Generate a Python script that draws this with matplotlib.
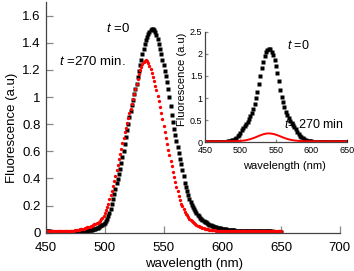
import numpy as np
import matplotlib
matplotlib.use("Agg")
import matplotlib.pyplot as plt

plt.rcParams['font.family'] = ['Liberation Sans', 'DejaVu Sans']
plt.rcParams['mathtext.fontset'] = 'custom'
plt.rcParams['mathtext.rm'] = 'Liberation Sans'
plt.rcParams['mathtext.it'] = 'Liberation Sans:italic'

##### data #####
# main plot, 1 nm steps 450..650
wl_main = np.arange(450, 651, 1)
t0_main = [
    0.012, 0.011, 0.010, 0.009, 0.008, 0.007, 0.006, 0.006, 0.005, 0.005,
    0.004, 0.004, 0.004, 0.003, 0.003, 0.003, 0.003, 0.003, 0.003, 0.003,
    0.004, 0.004, 0.004, 0.005, 0.005, 0.006, 0.006, 0.007, 0.008, 0.009,
    0.010, 0.011, 0.012, 0.013, 0.014, 0.015, 0.016, 0.018, 0.020, 0.022,
    0.024, 0.027, 0.030, 0.034, 0.038, 0.043, 0.048, 0.054, 0.060, 0.066,
    0.073, 0.085, 0.100, 0.120, 0.145, 0.175, 0.210, 0.245, 0.285, 0.325,
    0.365, 0.395, 0.430, 0.470, 0.515, 0.560, 0.605, 0.655, 0.705, 0.755,
    0.805, 0.850, 0.895, 0.940, 0.980, 1.020, 1.060, 1.100, 1.145, 1.190,
    1.235, 1.275, 1.315, 1.355, 1.390, 1.420, 1.445, 1.465, 1.480, 1.492,
    1.500, 1.502, 1.495, 1.480, 1.455, 1.425, 1.390, 1.355, 1.315, 1.275,
    1.235, 1.195, 1.155, 1.110, 1.060, 1.000, 0.935, 0.870, 0.815, 0.765,
    0.720, 0.675, 0.630, 0.585, 0.545, 0.505, 0.460, 0.415, 0.370, 0.335,
    0.305, 0.275, 0.250, 0.225, 0.205, 0.190, 0.175, 0.160, 0.145, 0.133,
    0.122, 0.112, 0.103, 0.095, 0.088, 0.082, 0.076, 0.070, 0.065, 0.060,
    0.056, 0.052, 0.048, 0.045, 0.042, 0.040, 0.037, 0.035, 0.033, 0.031,
    0.029, 0.027, 0.026, 0.024, 0.023, 0.022, 0.021, 0.020, 0.019, 0.018,
    0.017, 0.016, 0.016, 0.015, 0.015, 0.014, 0.014, 0.013, 0.013, 0.013,
    0.012, 0.012, 0.012, 0.012, 0.011, 0.011, 0.011, 0.011, 0.011, 0.010,
    0.010, 0.010, 0.010, 0.010, 0.010, 0.009, 0.009, 0.009, 0.009, 0.009,
    0.009, 0.009, 0.009, 0.008, 0.008, 0.008, 0.008, 0.008, 0.008, 0.008,
    0.008]
t270_main = [
    0.015, 0.014, 0.013, 0.012, 0.011, 0.010, 0.010, 0.009, 0.009, 0.009,
    0.009, 0.009, 0.009, 0.009, 0.010, 0.010, 0.010, 0.011, 0.011, 0.012,
    0.012, 0.013, 0.014, 0.015, 0.016, 0.017, 0.018, 0.020, 0.022, 0.024,
    0.026, 0.028, 0.030, 0.033, 0.036, 0.039, 0.042, 0.045, 0.049, 0.053,
    0.057, 0.061, 0.065, 0.070, 0.075, 0.082, 0.090, 0.100, 0.112, 0.126,
    0.143, 0.165, 0.190, 0.215, 0.245, 0.275, 0.310, 0.345, 0.380, 0.420,
    0.460, 0.500, 0.540, 0.580, 0.620, 0.660, 0.700, 0.740, 0.775, 0.810,
    0.845, 0.880, 0.915, 0.950, 0.985, 1.020, 1.060, 1.100, 1.135, 1.170,
    1.200, 1.225, 1.245, 1.260, 1.270, 1.272, 1.265, 1.250, 1.230, 1.205,
    1.180, 1.150, 1.120, 1.085, 1.050, 1.010, 0.970, 0.925, 0.880, 0.840,
    0.790, 0.745, 0.700, 0.655, 0.610, 0.570, 0.530, 0.490, 0.450, 0.410,
    0.375, 0.340, 0.305, 0.270, 0.240, 0.215, 0.195, 0.175, 0.155, 0.140,
    0.127, 0.115, 0.104, 0.094, 0.085, 0.077, 0.070, 0.064, 0.058, 0.053,
    0.048, 0.044, 0.040, 0.037, 0.034, 0.031, 0.029, 0.027, 0.025, 0.023,
    0.021, 0.020, 0.019, 0.018, 0.017, 0.016, 0.016, 0.015, 0.015, 0.014,
    0.014, 0.014, 0.013, 0.013, 0.013, 0.013, 0.012, 0.012, 0.012, 0.012,
    0.012, 0.012, 0.012, 0.012, 0.012, 0.011, 0.011, 0.011, 0.011, 0.011,
    0.011, 0.011, 0.011, 0.011, 0.011, 0.011, 0.011, 0.011, 0.011, 0.011,
    0.011, 0.011, 0.011, 0.011, 0.011, 0.010, 0.010, 0.010, 0.010, 0.010,
    0.010, 0.010, 0.010, 0.010, 0.010, 0.010, 0.010, 0.010, 0.010, 0.010,
    0.010]

# inset, 2 nm steps 450..650
wl_inset = np.arange(450, 651, 2)
t0_inset = [
    0.004, 0.004, 0.004, 0.004, 0.004, 0.005, 0.005, 0.005, 0.006, 0.006,
    0.007, 0.008, 0.009, 0.011, 0.013, 0.016, 0.020, 0.025, 0.032, 0.042,
    0.055, 0.075, 0.100, 0.135, 0.175, 0.220, 0.270, 0.320, 0.370, 0.415,
    0.460, 0.520, 0.590, 0.670, 0.760, 0.870, 0.990, 1.130, 1.320, 1.500,
    1.670, 1.820, 1.940, 2.030, 2.090, 2.110, 2.100, 2.050, 1.970, 1.860,
    1.720, 1.560, 1.380, 1.190, 1.030, 0.900, 0.790, 0.690, 0.610, 0.540,
    0.480, 0.430, 0.385, 0.340, 0.290, 0.240, 0.190, 0.150, 0.115, 0.088,
    0.068, 0.052, 0.040, 0.031, 0.025, 0.020, 0.017, 0.014, 0.012, 0.011,
    0.010, 0.009, 0.009, 0.008, 0.008, 0.007, 0.007, 0.006, 0.006, 0.006,
    0.005, 0.005, 0.005, 0.005, 0.005, 0.005, 0.005, 0.005, 0.005, 0.005,
    0.005]
t270_inset = [
    0.022, 0.022, 0.022, 0.022, 0.022, 0.022, 0.022, 0.022, 0.022, 0.022,
    0.022, 0.022, 0.022, 0.022, 0.022, 0.023, 0.023, 0.024, 0.024, 0.025,
    0.025, 0.026, 0.027, 0.028, 0.030, 0.032, 0.035, 0.038, 0.042, 0.047,
    0.055, 0.063, 0.072, 0.082, 0.093, 0.105, 0.118, 0.131, 0.145, 0.158,
    0.170, 0.180, 0.188, 0.195, 0.199, 0.200, 0.199, 0.195, 0.189, 0.181,
    0.171, 0.160, 0.148, 0.135, 0.122, 0.109, 0.097, 0.086, 0.076, 0.067,
    0.059, 0.052, 0.046, 0.041, 0.037, 0.034, 0.031, 0.029, 0.027, 0.026,
    0.025, 0.024, 0.024, 0.023, 0.023, 0.023, 0.022, 0.022, 0.022, 0.022,
    0.022, 0.022, 0.022, 0.022, 0.022, 0.022, 0.022, 0.022, 0.022, 0.022,
    0.022, 0.022, 0.022, 0.022, 0.022, 0.022, 0.022, 0.022, 0.022, 0.022,
    0.022]

main_xticks = [450, 500, 550, 600, 650, 700]
main_yticks = [0, 0.2, 0.4, 0.6, 0.8, 1, 1.2, 1.4, 1.6]
main_ylabels = ["0", "0.2", "0.4", "0.6", "0.8", "1", "1.2", "1.4", "1.6"]
inset_xticks = [450, 500, 550, 600, 650]
inset_yticks = [0, 0.5, 1, 1.5, 2, 2.5]
inset_ylabels = ["0", "0.5", "1", "1.5", "2", "2.5"]

spine_col = "#444444"
tick_col = "#888888"


def style_axes(ax, size, length, xpad, ypad):
    for s in ["top", "right"]:
        ax.spines[s].set_visible(False)
    for s in ["left", "bottom"]:
        ax.spines[s].set_color(spine_col)
        ax.spines[s].set_linewidth(0.9)
    ax.tick_params(direction="in", length=length, width=0.9, color=tick_col,
                   labelsize=size, labelcolor="black")
    ax.tick_params(axis="x", pad=xpad)
    ax.tick_params(axis="y", pad=ypad)


fig = plt.figure(figsize=(3.54, 2.71), dpi=100)

# main axes
ax = fig.add_axes([0.130, 0.1413, 0.830, 0.8506])
ax.plot(wl_main, t0_main, ls="none", marker="s", ms=2.6, mec="none",
        color="black")
ax.plot(wl_main, t270_main, ls="none", marker="o", ms=2.4, mec="none",
        color="red")
ax.set_xlim(450, 700)
ax.set_ylim(0, 1.7)
ax.set_xticks(main_xticks)
ax.set_yticks(main_yticks)
ax.set_yticklabels(main_ylabels)
style_axes(ax, 9.5, 5, 6.5, 4)
ax.set_xlabel("wavelength (nm)", fontsize=9.5)
ax.set_ylabel("Fluorescence (a.u)", fontsize=9.5)
ax.xaxis.set_label_coords(0.505, -0.108)
ax.yaxis.set_label_coords(-0.097, 0.456)
ax.text(0.204, 0.884, r"$t$ =0", transform=ax.transAxes, fontsize=9.5,
        ha="left", va="center")
ax.text(0.044, 0.742, r"$t$ =270 min.", transform=ax.transAxes, fontsize=9.5,
        ha="left", va="center")

# inset
ins = fig.add_axes([0.579, 0.475, 0.401, 0.408])
ins.patch.set_alpha(0)
ins.plot(wl_inset, t0_inset, ls="none", marker="s", ms=2.3, mec="none",
         color="black")
ins.plot(wl_inset, t270_inset, lw=1.4, color="red")
ins.set_xlim(450, 650)
ins.set_ylim(0, 2.5)
ins.set_xticks(inset_xticks)
ins.set_yticks(inset_yticks)
ins.set_yticklabels(inset_ylabels)
style_axes(ins, 6.5, 2.5, 3.0, 1.8)
ins.set_xlabel("wavelength (nm)", fontsize=8)
ins.set_ylabel("Fluorescence (a.u)", fontsize=8)
ins.xaxis.set_label_coords(0.563, -0.165)
ins.yaxis.set_label_coords(-0.125, 0.57)
ins.text(0.577, 0.873, r"$t$ =0", transform=ins.transAxes, fontsize=9,
         ha="left", va="center")
ins.text(0.556, 0.165, r"$t$= 270 min", transform=ins.transAxes, fontsize=9,
         ha="left", va="center")

fig.savefig("out.png", dpi=100)
